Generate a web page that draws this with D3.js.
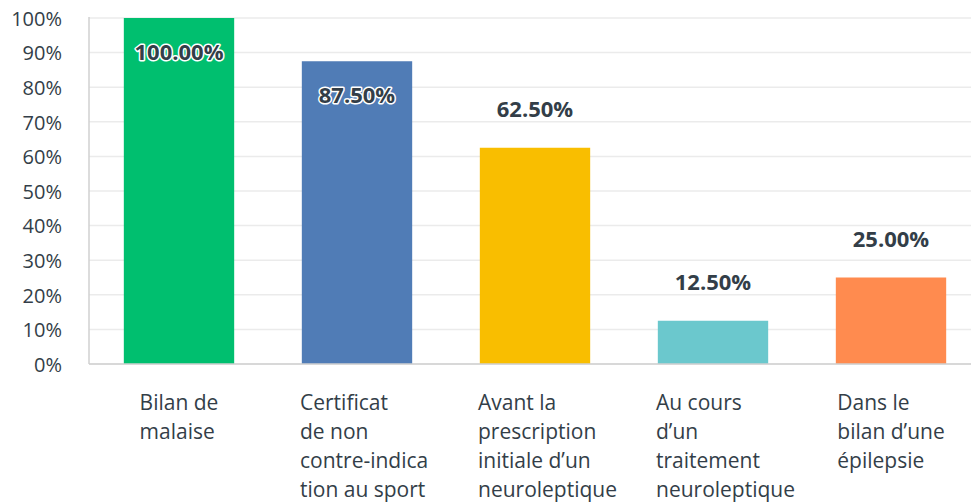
<!DOCTYPE html>
<html>
<head>
<meta charset="utf-8">
<script src="https://cdn.jsdelivr.net/npm/d3@7"></script>
<style>
  body { margin: 0; background: #fff; }
  text { font-family: "Open Sans", "Noto Sans", sans-serif; fill: #333e48; }
</style>
</head>
<body>
<div id="chart"></div>
<script>
// data
const categories = [
  ["Bilan de", "malaise"],
  ["Certificat", "de non", "contre-indica", "tion au sport"],
  ["Avant la", "prescription", "initiale d\u2019un", "neuroleptique"],
  ["Au cours", "d\u2019un", "traitement", "neuroleptique"],
  ["Dans le", "bilan d\u2019une", "\u00e9pilepsie"]
]
const values = [100, 87.5, 62.5, 12.5, 25]
const colors = ["#00bf6f", "#507cb6", "#f9be00", "#6bc8cd", "#ff8b4f"]
const yTicks = [0, 10, 20, 30, 40, 50, 60, 70, 80, 90, 100]

const width = 971
const height = 504
const plotLeft = 89
const plotTop = 18
const plotBottom = 364

const svg = d3.select("#chart")
  .append("svg")
  .attr("width", width)
  .attr("height", height)

const x = d3.scaleBand()
  .domain(d3.range(values.length))
  .range([90, 980])
  .paddingInner(0.38)
  .paddingOuter(0.19)

const y = d3.scaleLinear()
  .domain([0, 100])
  .range([plotBottom, plotTop])

// gridlines
svg.append("g")
  .selectAll("line")
  .data(yTicks)
  .enter()
  .append("line")
  .attr("x1", plotLeft)
  .attr("x2", width)
  .attr("y1", d => y(d))
  .attr("y2", d => y(d))
  .attr("stroke", "#ebebeb")
  .attr("stroke-width", 1.5)

// y axis labels
const yAxis = d3.axisLeft(y)
  .tickValues(yTicks)
  .tickFormat(d => d + "%")
  .tickSize(0)
  .tickPadding(27)

svg.append("g")
  .attr("transform", "translate(" + plotLeft + ",0)")
  .call(yAxis)
  .call(g => g.select(".domain").remove())
  .selectAll("text")
  .attr("font-size", 20)
  .attr("fill", "#333e48")
  .attr("font-family", "'Open Sans', sans-serif")
  .attr("dy", "0.36em")

// bars
svg.append("g")
  .selectAll("rect")
  .data(values)
  .enter()
  .append("rect")
  .attr("x", (d, i) => x(i))
  .attr("y", d => y(d))
  .attr("width", x.bandwidth())
  .attr("height", d => plotBottom - y(d))
  .attr("fill", (d, i) => colors[i])

// frame lines
svg.append("line")
  .attr("x1", plotLeft).attr("x2", plotLeft)
  .attr("y1", plotTop - 1).attr("y2", plotBottom)
  .attr("stroke", "#d0d0d0").attr("stroke-width", 1.5)
svg.append("line")
  .attr("x1", plotLeft).attr("x2", width)
  .attr("y1", plotBottom).attr("y2", plotBottom)
  .attr("stroke", "#d0d0d0").attr("stroke-width", 1.5)

// value labels, inside the bar when there is no room above
const inside = d => y(d) - 31 < 40
svg.append("g")
  .selectAll("text")
  .data(values)
  .enter()
  .append("text")
  .attr("x", (d, i) => x(i) + x.bandwidth() / 2)
  .attr("y", d => inside(d) ? y(d) + 42 : y(d) - 31)
  .attr("text-anchor", "middle")
  .attr("font-size", 22)
  .attr("font-weight", "bold")
  .style("paint-order", "stroke")
  .attr("stroke", d => inside(d) ? "#fff" : "none")
  .attr("stroke-width", 3)
  .attr("stroke-linejoin", "round")
  .text(d => d.toFixed(2) + "%")

// category labels, left aligned block centred under the bar
categories.forEach(function(lines, i) {
  const g = svg.append("g")
  const t = g.append("text").attr("font-size", 21)
  lines.forEach(function(line, j) {
    t.append("tspan")
      .attr("x", 0)
      .attr("y", plotBottom + 46 + j * 29)
      .text(line)
  })
  let w = 0
  t.selectAll("tspan").each(function() {
    w = Math.max(w, this.getComputedTextLength())
  })
  w = Math.min(w, 114)
  g.attr("transform", "translate(" + (x(i) + x.bandwidth() / 2 - w / 2) + ",0)")
})
</script>
</body>
</html>
